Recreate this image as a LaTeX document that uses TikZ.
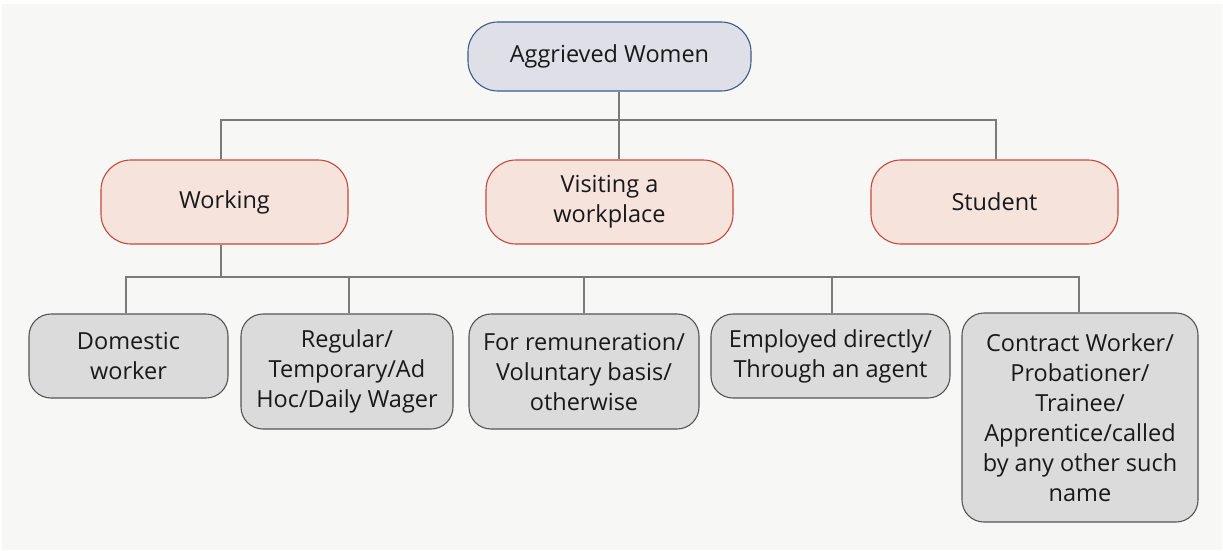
\documentclass[tikz,border=0pt]{standalone}
\usepackage{fontspec}
\setmainfont{Open Sans}
\definecolor{bggray}{HTML}{F7F7F5}
\definecolor{topfill}{HTML}{DFDFE8}
\definecolor{topdraw}{HTML}{3B5B8E}
\definecolor{midfill}{HTML}{F5E3DC}
\definecolor{middraw}{HTML}{C9473A}
\definecolor{botfill}{HTML}{DCDBDC}
\definecolor{botdraw}{HTML}{555555}
\definecolor{linegray}{HTML}{7A7A7A}
\tikzset{
  box/.style={rounded corners=22pt, line width=1.1pt, align=center, inner sep=0pt,
    font=\fontsize{23.5}{30}\selectfont, text=black!90},
  topbox/.style={box, fill=topfill, draw=topdraw, rounded corners=30pt},
  midbox/.style={box, fill=midfill, draw=middraw, rounded corners=30pt},
  botbox/.style={box, fill=botfill, draw=botdraw},
  conn/.style={draw=linegray, line width=1.3pt}
}
\begin{document}
\begin{tikzpicture}[x=1pt,y=-1pt]
\useasboundingbox (0,0) rectangle (1223,551);
\fill[white] (0,0) rectangle (1223,551);
\fill[bggray] (2,4) rectangle (1222,550);
% top
\node[topbox, minimum width=283pt, minimum height=69pt] (top) at (609.5,56.5) {Aggrieved Women};
% middle
\node[midbox, minimum width=247pt, minimum height=84pt] (work) at (224.5,202) {Working};
\node[midbox, minimum width=247pt, minimum height=84pt] (visit) at (609.5,202) {Visiting a\\workplace};
\node[midbox, minimum width=247pt, minimum height=84pt] (stud) at (994.5,202) {Student};
% bottom
\node[botbox, minimum width=199pt, minimum height=84pt] (dom) at (128.5,356) {Domestic\\worker};
\node[botbox, minimum width=212pt, minimum height=115pt] (reg) at (347,371.5) {Regular/\\Temporary/Ad\\Hoc/Daily Wager};
\node[botbox, minimum width=230pt, minimum height=115pt] (rem) at (584,371.5) {For remuneration/\\Voluntary basis/\\otherwise};
\node[botbox, minimum width=239pt, minimum height=84pt] (emp) at (830.5,356) {Employed directly/\\Through an agent};
\node[botbox, minimum width=236pt, minimum height=209pt] (con) at (1080,417.5) {Contract Worker/\\Probationer/\\Trainee/\\Apprentice/called\\by any other such\\name};
% connectors
\coordinate (j1) at (619,120);
\draw[conn] (top.south -| j1) -- (j1);
\draw[conn] (work.north -| 221,0) -- (221,120) -- (996,120) -- (stud.north -| 996,0);
\draw[conn] (j1) -- (visit.north -| j1);
\coordinate (j2) at (221,277);
\draw[conn] (work.south -| j2) -- (j2);
\draw[conn] (dom.north -| 126,0) -- (126,277) -- (1079,277) -- (con.north -| 1079,0);
\draw[conn] (349,277) -- (reg.north -| 349,0);
\draw[conn] (584,277) -- (rem.north -| 584,0);
\draw[conn] (832,277) -- (emp.north -| 832,0);
\end{tikzpicture}
\end{document}
